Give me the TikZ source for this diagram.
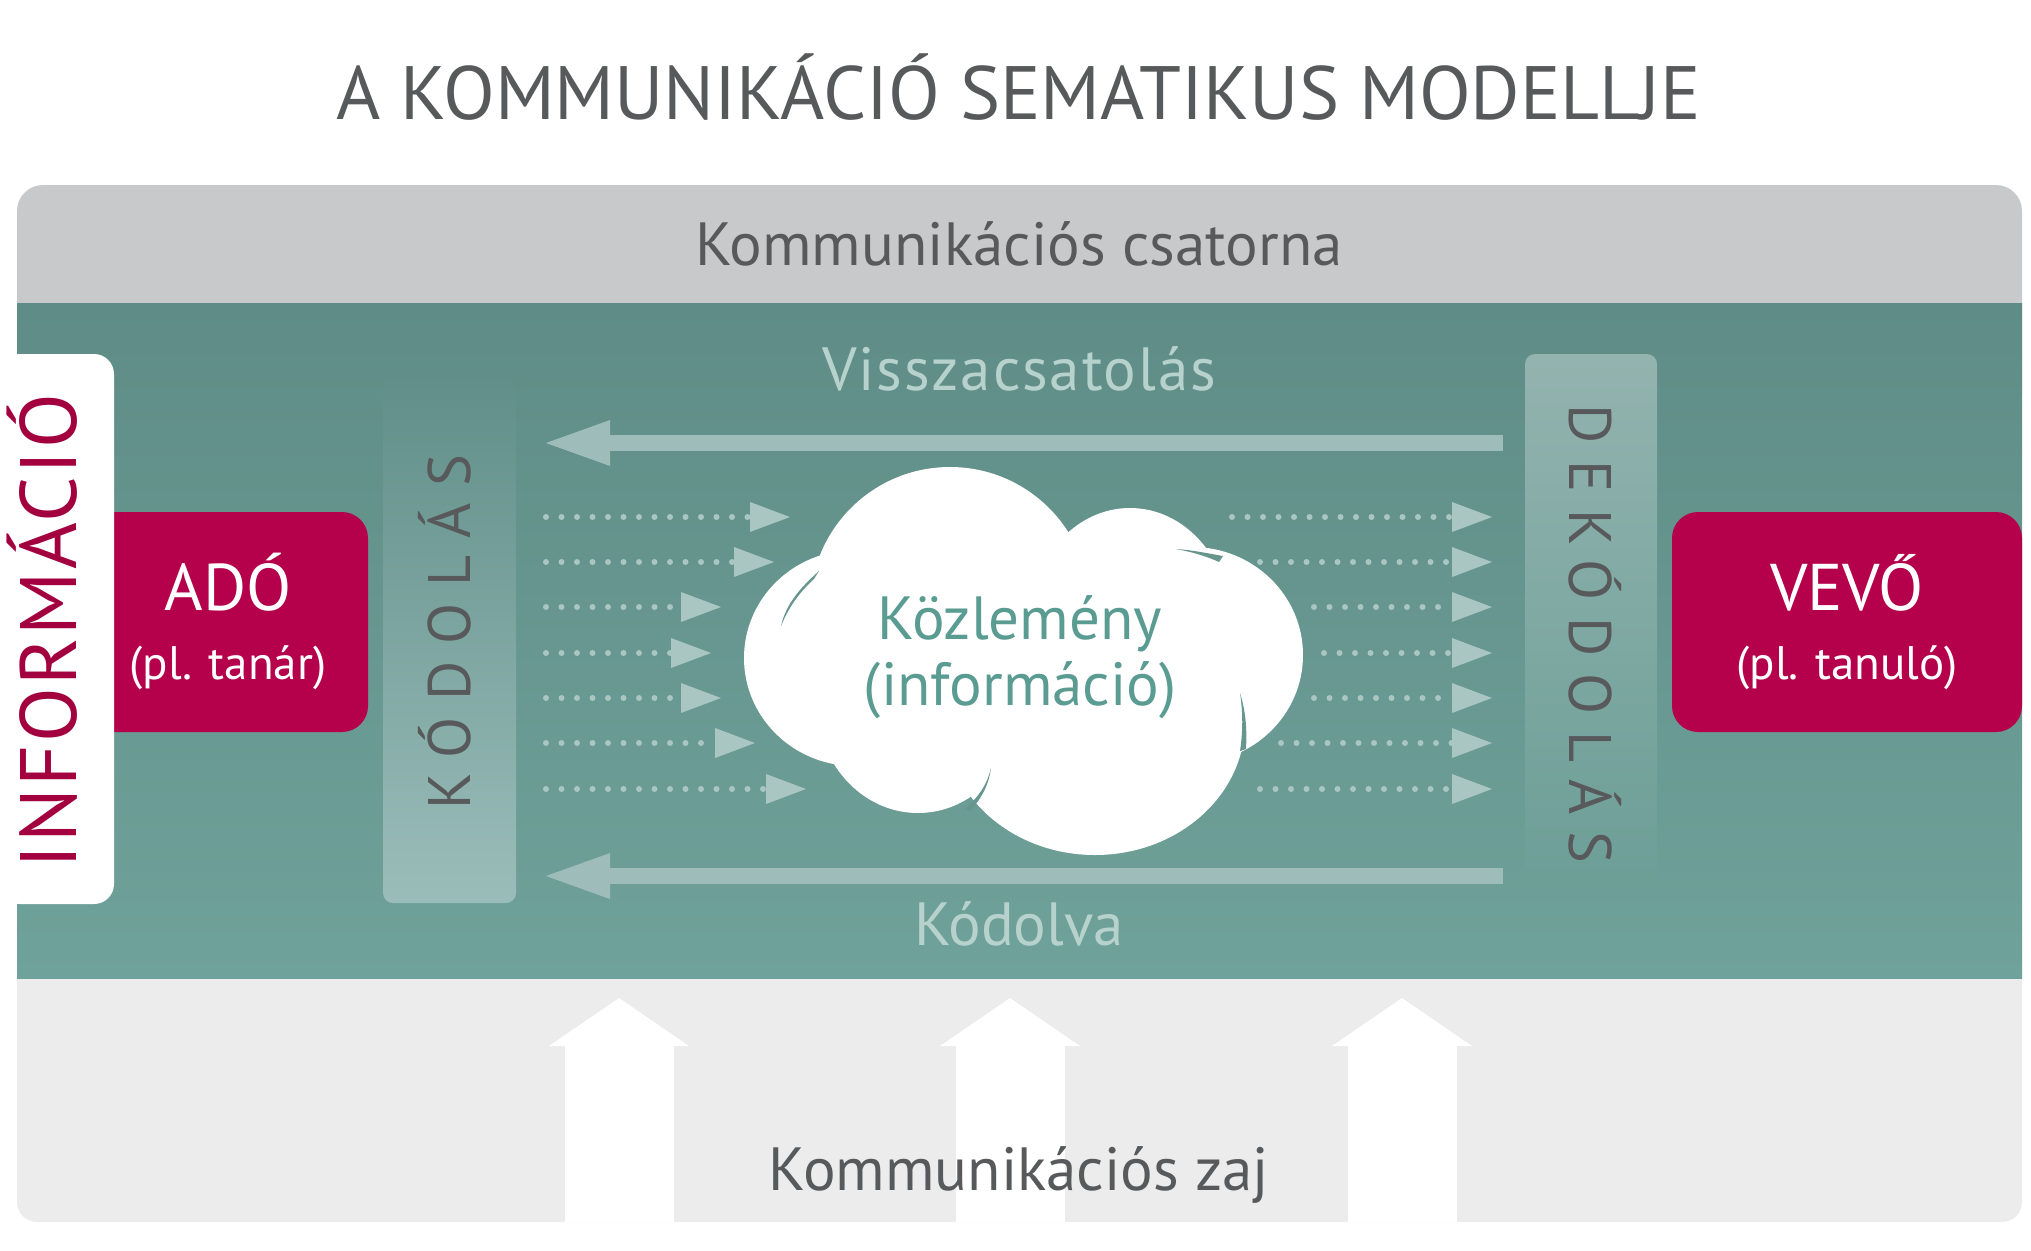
\documentclass[tikz,border=0pt]{standalone}
\usepackage{fontspec}
\setmainfont{PT Sans}
\usetikzlibrary{arrows.meta}
\definecolor{txtgray}{HTML}{58595B}
\definecolor{bandgray}{HTML}{C8C9CA}
\definecolor{noisegray}{HTML}{ECECEC}
\definecolor{tealtop}{HTML}{5F8C86}
\definecolor{tealbot}{HTML}{6FA29A}
\definecolor{crimson}{HTML}{B5004B}
\definecolor{infored}{HTML}{A3003F}
\definecolor{arrowteal}{HTML}{9EBDBA}
\definecolor{labelteal}{HTML}{B7D1CD}
\definecolor{dotteal}{HTML}{A9C6C2}
\definecolor{cloudtext}{HTML}{5A9B92}
\definecolor{barlight}{HTML}{9BBDBA}
\definecolor{barlight2}{HTML}{93B3AF}
\definecolor{slivercol}{HTML}{67968F}
\begin{document}
\begin{tikzpicture}[x=0.5pt,y=-0.5pt,
  every node/.style={inner sep=0pt,outer sep=0pt},
  titletext/.style={font=\fontsize{37.8}{40}\selectfont,text=txtgray},
  lbltext/.style={font=\fontsize{30.5}{32}\selectfont},
  boxhead/.style={font=\fontsize{33}{35}\selectfont,text=white},
  boxsub/.style={font=\fontsize{23.5}{25}\selectfont,text=white},
  spaced/.style={font=\fontsize{30}{32}\selectfont\addfontfeature{LetterSpace=28},text=txtgray},
  agentbox/.style={fill=crimson,rounded corners=13pt,minimum height=110pt},
  dotarrow/.style={draw=dotteal,line width=3pt,line cap=round,dash pattern=on 0pt off 7.75pt,
    -{Triangle[length=20pt,width=15pt,line width=0pt]}},
  bigarrow/.style={draw=arrowteal,line width=8pt,-{Triangle[length=32pt,width=23pt,line width=0pt]}},
  noisearrow/.style={draw=white,line width=54.5pt,-{Triangle[length=24pt,width=70pt,line width=0pt]}},
  cloudpart/.style={fill=white},
]
\useasboundingbox (0,0) rectangle (2031,1250);
% bands
\fill[bandgray,rounded corners=13pt] (17,185) rectangle (2022,420);
\fill[noisegray,rounded corners=10pt] (17,900) rectangle (2022,1222);
\shade[top color=tealtop,bottom color=tealbot] (17,303) rectangle (2022,978);
% title and band labels
\node[titletext,anchor=base] (title) at (1019,119) {A KOMMUNIKÁCIÓ SEMATIKUS MODELLJE};
\node[lbltext,text=txtgray,anchor=base] (channel) at (1019,265) {Kommunikációs csatorna};
\node[lbltext,text=labelteal,anchor=base,font=\fontsize{30.5}{32}\selectfont\addfontfeature{LetterSpace=3}] (feedbacklbl) at (1019,390) {Visszacsatolás};
\node[lbltext,text=labelteal,anchor=base] (codedlbl) at (1019,945) {Kódolva};
% coding bars
\node[rounded corners=5pt,top color=tealtop!88!tealbot,bottom color=barlight,minimum width=66.5pt,minimum height=263.5pt] (kodbar) at (449.5,639.5) {};
\node[rounded corners=5pt,top color=barlight2,bottom color=tealbot!85!tealtop,minimum width=66pt,minimum height=263.5pt] (dekbar) at (1591,617.5) {};
\node[spaced,rotate=90,anchor=base] (kodtext) at (470,632) {KÓDOLÁS};
\node[spaced,rotate=-90,anchor=base] (dektext) at (1569,634) {DEKÓDOLÁS};
% feedback / coded arrows
\coordinate (fbs) at (1503,443);
\coordinate (fbe) at (546,443);
\coordinate (cds) at (1503,876);
\coordinate (cde) at (546,876);
\draw[bigarrow] (fbs) -- (fbe);
\draw[bigarrow] (cds) -- (cde);
% dotted arrows
\foreach \i/\y/\ls/\le/\rs in {1/517/546/790/1232,2/562/546/774/1260,3/607/546/721/1314,4/653/546/711/1324,5/698/546/721/1314,6/743/546/755/1281,7/789/546/806/1260}{
  \coordinate (dl\i s) at (\ls,\y);
  \coordinate (dl\i e) at (\le,\y);
  \coordinate (dr\i s) at (\rs,\y);
  \coordinate (dr\i e) at (1492,\y);
  \draw[dotarrow] (dl\i s) -- (dl\i e);
  \draw[dotarrow] (dr\i s) -- (dr\i e);
}
% cloud
\fill[cloudpart] (950,607) ellipse [x radius=140,y radius=140];
\fill[cloudpart] (1130,622) ellipse [x radius=100,y radius=114];
\fill[cloudpart] (1192,655) ellipse [x radius=111,y radius=108];
\fill[cloudpart] (1095,722) ellipse [x radius=150,y radius=133];
\fill[cloudpart] (918,700) ellipse [x radius=102,y radius=113];
\fill[cloudpart] (855,658) ellipse [x radius=111,y radius=108];
% cloud slivers
\fill[slivercol] (819,571) .. controls (800,588) and (786,604) .. (781,626) .. controls (790,604) and (802,590) .. (814,579) -- cycle;
\fill[slivercol] (1176,549) .. controls (1192,550) and (1206,553) .. (1223,556) -- (1219,562) .. controls (1206,556) and (1192,552) .. (1176,549) -- cycle;
\fill[slivercol] (1240,693) .. controls (1246,712) and (1247,730) .. (1246,749) -- (1240,751) .. controls (1243,732) and (1243,712) .. (1240,693) -- cycle;
\fill[slivercol] (991,768) .. controls (987,785) and (978,798) .. (965,808) -- (970,811) .. controls (982,798) and (989,784) .. (991,768) -- cycle;
\node (cloud) at (1020,660) {};
\node[lbltext,text=cloudtext,anchor=base] (msg) at (1020,639) {Közlemény};
\node[lbltext,text=cloudtext,anchor=base] (msginfo) at (1020,705) {(információ)};
% sender
\node[agentbox,minimum width=139pt] (ado) at (229,622) {};
\node[fill=white,rounded corners=10pt,minimum width=57pt,minimum height=275pt] (infotab) at (57,629) {};
\node[font=\fontsize{40}{42}\selectfont\addfontfeature{LetterSpace=3},text=infored,rotate=90,anchor=base] (infotext) at (76,631) {INFORMÁCIÓ};
\node[boxhead,anchor=base] (adolbl) at (228,610) {ADÓ};
\node[boxsub,anchor=base] (adosub) at (228,679) {(pl. tanár)};
% receiver
\node[agentbox,minimum width=175pt] (vevo) at (1847,622) {};
\node[boxhead,anchor=base] (vevolbl) at (1847,610) {VEVŐ};
\node[boxsub,anchor=base] (vevosub) at (1847,679) {(pl. tanuló)};
% noise arrows
\foreach \i/\x in {1/619,2/1010,3/1402}{
  \coordinate (n\i s) at (\x,1222);
  \coordinate (n\i e) at (\x,998);
  \draw[noisearrow] (n\i s) -- (n\i e);
}
\node[lbltext,text=txtgray,anchor=base] (noise) at (1019,1190) {Kommunikációs zaj};
\end{tikzpicture}
\end{document}
